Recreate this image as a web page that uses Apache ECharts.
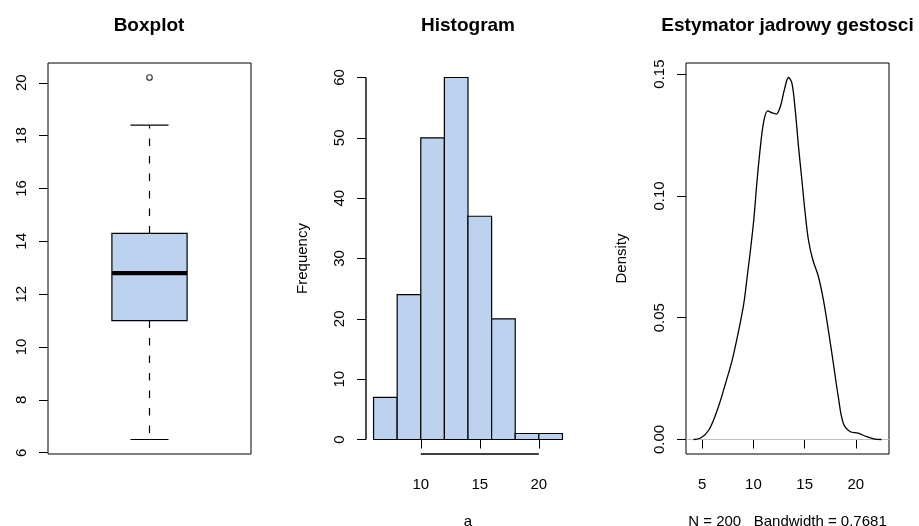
<!DOCTYPE html>
<html><head><meta charset="utf-8">
<script src="https://cdn.jsdelivr.net/npm/echarts@6/dist/echarts.min.js"></script>
<style>html,body{margin:0;padding:0;background:#fff}#c{width:919px;height:526px}</style>
</head><body><div id="c"></div><script>
// ---- data ----
const boxStats = [6.5, 11.0, 12.8, 14.3, 18.4]; // min, Q1, median, Q3, max (whiskers)
const boxOutliers = [20.2];
const boxTicks = [6, 8, 10, 12, 14, 16, 18, 20];

const histBreaks = [6, 8, 10, 12, 14, 16, 18, 20, 22];
const histCounts = [7, 24, 50, 60, 37, 20, 1, 1];
const histXTicks = [10, 15, 20];
const histYTicks = [0, 10, 20, 30, 40, 50, 60];

const densX = [4.15, 4.85, 5.66, 6.48, 7.28, 7.93, 8.57, 9.06, 9.39, 9.71, 10.03, 10.36, 10.68, 11.0, 11.39, 11.82, 12.23, 12.62, 13.01, 13.43, 13.76, 14.08, 14.4, 14.73, 15.05, 15.37, 15.8, 16.34, 16.83, 17.31, 17.8, 18.28, 18.77, 19.42, 20.22, 21.04, 21.84, 22.5];
const densY = [0, 0.0006, 0.004, 0.0122, 0.0231, 0.0327, 0.045, 0.0559, 0.0669, 0.0778, 0.0901, 0.1065, 0.1202, 0.1304, 0.1349, 0.1341, 0.1336, 0.1366, 0.1434, 0.1486, 0.1462, 0.1352, 0.1202, 0.1065, 0.0929, 0.0819, 0.0737, 0.0669, 0.0573, 0.045, 0.0313, 0.0176, 0.0067, 0.0033, 0.0026, 0.0012, 0.0002, 0];
const densXTicks = [5, 10, 15, 20];
const densYTicks = [0, 0.05, 0.10, 0.15];

const titles = ['Boxplot', 'Histogram', 'Estymator jadrowy gestosci'];
const histXName = 'a';
const histYName = 'Frequency';
const densXName = 'N = 200   Bandwidth = 0.7681';
const densYName = 'Density';

// ---- helpers ----
function ext(lo, hi) { const d = (hi - lo) * 0.04; return [lo - d, hi + d]; }
const boxR = ext(Math.min(...boxStats, ...boxOutliers), Math.max(...boxStats, ...boxOutliers));
const histXR = ext(histBreaks[0], histBreaks[histBreaks.length - 1]);
const histYR = ext(0, Math.max(...histCounts));
const densXR = ext(Math.min(...densX), Math.max(...densX));
const densYR = ext(Math.min(...densY), Math.max(...densY));

const FONT = 'Liberation Sans, Arial, Helvetica, sans-serif';
const FILL = '#BCD2EE';
const FS = 15;

const tickStyle = { show: true, inside: false, length: 9, lineStyle: { color: '#000', width: 1 } };
function valueAxis(extra) {
  return Object.assign({
    type: 'value', splitLine: { show: false },
    axisLine: { show: false },
    nameTextStyle: { fontFamily: FONT, fontSize: FS, color: '#000' }
  }, extra);
}
function yAxisCfg(grid, range, ticks, fmt, name, gap) {
  return valueAxis({
    gridIndex: grid, min: range[0], max: range[1],
    axisTick: Object.assign({ customValues: ticks }, tickStyle),
    axisLabel: { customValues: ticks, rotate: 90, margin: 19, fontFamily: FONT, fontSize: FS, color: '#000', formatter: fmt },
    name: name, nameLocation: 'middle', nameRotate: 90, nameGap: gap
  });
}
function xAxisCfg(grid, range, ticks, name, gap) {
  return valueAxis({
    gridIndex: grid, min: range[0], max: range[1],
    axisTick: Object.assign({ customValues: ticks }, tickStyle),
    axisLabel: { customValues: ticks, margin: 23, fontFamily: FONT, fontSize: FS, color: '#000' },
    name: name, nameLocation: 'middle', nameGap: gap
  });
}

const gridBase = { outerBoundsMode: 'none', containLabel: false, top: 63, height: 391, backgroundColor: 'transparent' };
const option = {
  animation: false,
  backgroundColor: '#fff',
  title: titles.map((t, i) => ({
    text: t, left: [149, 468, 787.5][i], top: 16, textAlign: 'center', padding: 0,
    textStyle: { fontFamily: FONT, fontSize: 19, fontWeight: 'bold', color: '#000' }
  })),
  grid: [
    Object.assign({ left: 48, width: 203, show: true, borderColor: '#000', borderWidth: 1 }, gridBase),
    Object.assign({ left: 366, width: 204, show: false }, gridBase),
    Object.assign({ left: 686, width: 203, show: true, borderColor: '#000', borderWidth: 1 }, gridBase)
  ],
  xAxis: [
    valueAxis({ gridIndex: 0, min: 0.5, max: 1.5, axisTick: { show: false }, axisLabel: { show: false } }),
    xAxisCfg(1, histXR, histXTicks, histXName, 60),
    xAxisCfg(2, densXR, densXTicks, densXName, 60)
  ],
  yAxis: [
    yAxisCfg(0, boxR, boxTicks, v => String(v), '', 0),
    yAxisCfg(1, histYR, histYTicks, v => String(v), histYName, 56),
    yAxisCfg(2, densYR, densYTicks, v => v.toFixed(2), densYName, 57)
  ],
  series: [
    // boxplot
    {
      type: 'custom', xAxisIndex: 0, yAxisIndex: 0,
      data: [[1].concat(boxStats)],
      renderItem: function (params, api) {
        const c = api.coord([1, api.value(3)])[0];
        const y = [1, 2, 3, 4, 5].map(k => api.coord([1, api.value(k)])[1]);
        const hw = 37.6, cw = 19;
        const ls = { stroke: '#000', lineWidth: 1.2, fill: null };
        return {
          type: 'group', children: [
            { type: 'line', shape: { x1: c, y1: y[3], x2: c, y2: y[4] }, style: Object.assign({ lineDash: [7.5, 10] }, ls) },
            { type: 'line', shape: { x1: c, y1: y[1], x2: c, y2: y[0] }, style: Object.assign({ lineDash: [7.5, 10] }, ls) },
            { type: 'line', shape: { x1: c - cw, y1: y[4], x2: c + cw, y2: y[4] }, style: ls },
            { type: 'line', shape: { x1: c - cw, y1: y[0], x2: c + cw, y2: y[0] }, style: ls },
            { type: 'rect', shape: { x: c - hw, y: y[3], width: 2 * hw, height: y[1] - y[3] }, style: { fill: FILL, stroke: '#000', lineWidth: 1.2 } },
            { type: 'line', shape: { x1: c - hw, y1: y[2], x2: c + hw, y2: y[2] }, style: { stroke: '#000', lineWidth: 4.3 } }
          ]
        };
      }
    },
    {
      type: 'scatter', xAxisIndex: 0, yAxisIndex: 0,
      data: boxOutliers.map(v => [1, v]), symbol: 'circle', symbolSize: 5.5,
      itemStyle: { color: '#fff', borderColor: '#000', borderWidth: 1.2 }
    },
    // histogram
    {
      type: 'custom', xAxisIndex: 1, yAxisIndex: 1,
      data: histCounts.map((c, i) => [histBreaks[i], histBreaks[i + 1], c]),
      renderItem: function (params, api) {
        const p0 = api.coord([api.value(0), api.value(2)]);
        const p1 = api.coord([api.value(1), 0]);
        return { type: 'rect', shape: { x: p0[0], y: p0[1], width: p1[0] - p0[0], height: p1[1] - p0[1] },
          style: { fill: FILL, stroke: '#000', lineWidth: 1.2 } };
      }
    },
    { // histogram x axis line (from first to last tick)
      type: 'line', xAxisIndex: 1, yAxisIndex: 1, clip: false, showSymbol: false, silent: true,
      data: [[histXTicks[0], histYR[0]], [histXTicks[histXTicks.length - 1], histYR[0]]],
      lineStyle: { color: '#000', width: 1.4 }
    },
    { // histogram y axis line
      type: 'line', xAxisIndex: 1, yAxisIndex: 1, clip: false, showSymbol: false, silent: true,
      data: [[histXR[0], histYTicks[0]], [histXR[0], histYTicks[histYTicks.length - 1]]],
      lineStyle: { color: '#000', width: 1.4 }
    },
    // density
    {
      type: 'line', xAxisIndex: 2, yAxisIndex: 2, showSymbol: false, silent: true,
      data: [[densXR[0], 0], [densXR[1], 0]],
      lineStyle: { color: '#BEBEBE', width: 1 }
    },
    {
      type: 'line', xAxisIndex: 2, yAxisIndex: 2, showSymbol: false, smooth: 0.35,
      data: densX.map((x, i) => [x, densY[i]]),
      lineStyle: { color: '#000', width: 1.3 }
    }
  ]
};
const chart = echarts.init(document.getElementById('c'), null, { renderer: 'canvas' });
chart.setOption(option);
</script></body></html>
